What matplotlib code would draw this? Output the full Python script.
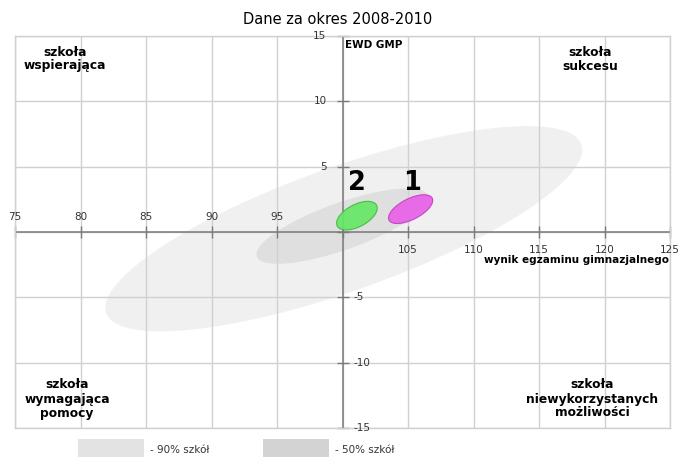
import matplotlib
matplotlib.use("Agg")
import matplotlib.pyplot as plt
from matplotlib.patches import Ellipse, Rectangle

# ---- data ----
x_ticks = [75, 80, 85, 90, 95, 100, 105, 110, 115, 120, 125]
y_ticks = [-15, -10, -5, 0, 5, 10, 15]
x_labels_above = [75, 80, 85, 90, 95]
x_labels_below = [105, 110, 115, 120, 125]
y_labels_left = [5, 10, 15]
y_labels_right = [-5, -10, -15]

# regions: center x, center y, width, height, angle
region_names = ["90% szkół", "50% szkół"]
region_cx = [100.1, 100.0]
region_cy = [0.25, 0.45]
region_w = [38.5, 13.9]
region_h = [9.5, 3.6]
region_ang = [19.6, 19.6]
region_colors = ["#eeeeee", "#dcdcdc"]
legend_colors = ["#e3e3e3", "#d3d3d3"]

# schools: label, center x (exam result), center y (EWD), width, height, angle
school_labels = ["1", "2"]
school_cx = [105.2, 101.1]
school_cy = [1.75, 1.25]
school_w = [3.7, 3.4]
school_h = [1.6, 1.7]
school_ang = [27, 28]
school_label_x = [105.3, 101.1]
school_label_y = [3.75, 3.75]
school_face = ["#e860e8", "#66e866"]
school_edge = ["#c040c0", "#44b844"]

quadrant_texts = ["szkoła\nwspierająca", "szkoła\nsukcesu",
                  "szkoła\nwymagająca\npomocy", "szkoła\nniewykorzystanych\nmożliwości"]

W, H = 682, 457
fig = plt.figure(figsize=(W / 100, H / 100), dpi=100)
L, R, T, B = 15, 670, 36, 428
ax = fig.add_axes([L / W, 1 - B / H, (R - L) / W, (B - T) / H])
ax.set_xlim(75, 125)
ax.set_ylim(-15, 15)
ax.set_xticks(x_ticks)
ax.set_yticks(y_ticks)
ax.tick_params(length=0, labelbottom=False, labelleft=False)
ax.grid(True, color="#d0d0d0", linewidth=1.0, zorder=0)
ax.set_axisbelow(True)
for s in ax.spines.values():
    s.set_color("#d0d0d0")
    s.set_linewidth(1.0)

# regions
for cx, cy, w, h, a, c in zip(region_cx, region_cy, region_w, region_h, region_ang, region_colors):
    ax.add_patch(Ellipse((cx, cy), w, h, angle=a, facecolor=c, edgecolor="none", zorder=0.5, alpha=0.85))

# axes lines
axc = "#7a7a7a"
ax.axhline(0, color=axc, linewidth=1.1, zorder=2)
ax.axvline(100, color=axc, linewidth=1.1, zorder=2)
ax.plot(x_ticks, [0] * len(x_ticks), linestyle="none", marker="|", markersize=8,
        markeredgewidth=1.0, color=axc, zorder=2, clip_on=False)
ax.plot([100] * len(y_ticks), y_ticks, linestyle="none", marker="_", markersize=8,
        markeredgewidth=1.0, color=axc, zorder=2, clip_on=False)

# schools
for lab, cx, cy, w, h, a, fc, ec, lx, ly in zip(school_labels, school_cx, school_cy, school_w,
                                                 school_h, school_ang, school_face, school_edge,
                                                 school_label_x, school_label_y):
    ax.add_patch(Ellipse((cx, cy), w, h, angle=a, facecolor=fc, edgecolor=ec,
                         linewidth=0.8, alpha=0.92, zorder=3))
    ax.text(lx, ly, lab, ha="center", va="center", fontsize=18.5,
            fontweight="bold", color="black", zorder=4)

tc = "#333333"
fs = 7.5
for v in x_labels_above:
    ax.annotate(str(v), (v, 0), xytext=(0, 11), textcoords="offset points",
                ha="center", va="center", fontsize=fs, color=tc)
for v in x_labels_below:
    ax.annotate(str(v), (v, 0), xytext=(0, -13), textcoords="offset points",
                ha="center", va="center", fontsize=fs, color=tc)
for v in y_labels_left:
    ax.annotate(str(v), (100, v), xytext=(-11.5, 0), textcoords="offset points",
                ha="right", va="center", fontsize=fs, color=tc)
for v in y_labels_right:
    ax.annotate(str(v), (100, v), xytext=(8, 0), textcoords="offset points",
                ha="left", va="center", fontsize=fs, color=tc)

def fx(px):
    return px / W

def fy(py):
    return 1 - py / H

fig.text(fx(345), fy(40), "EWD GMP", ha="left", va="top", fontsize=7.5, fontweight="bold")
fig.text(fx(484), fy(260), "wynik egzaminu gimnazjalnego", ha="left", va="center",
         fontsize=7.5, fontweight="bold")
fig.text(fx(338), fy(19), "Dane za okres 2008-2010", ha="center", va="center", fontsize=10.5)

q_pos = [(65, 59), (590, 59), (67, 399), (592, 399)]
for t, (px, py) in zip(quadrant_texts, q_pos):
    fig.text(fx(px), fy(py), t, ha="center", va="center", multialignment="center",
             fontsize=8.8, fontweight="bold", linespacing=1.1)

# legend
leg_x = [78, 263]
for name, col, lx in zip(region_names, legend_colors, leg_x):
    fig.add_artist(Rectangle((fx(lx), fy(460)), 66 / W, 21 / H, transform=fig.transFigure,
                             facecolor=col, edgecolor="none"))
    fig.text(fx(lx + 72), fy(450), "- " + name, ha="left", va="center", fontsize=7.5, color=tc)

fig.savefig("out.png", dpi=100)
